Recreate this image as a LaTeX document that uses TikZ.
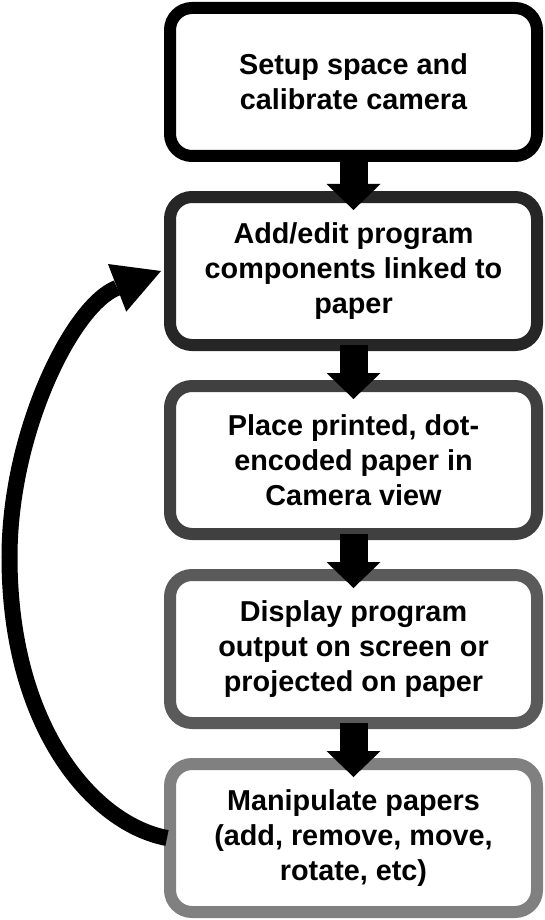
\documentclass[tikz,border=0pt]{standalone}
\usepackage{fontspec}
\setmainfont{Liberation Sans}
\usetikzlibrary{arrows.meta}
\definecolor{boxA}{HTML}{000000}
\definecolor{boxB}{HTML}{262626}
\definecolor{boxC}{HTML}{404040}
\definecolor{boxD}{HTML}{5A5A5A}
\definecolor{boxE}{HTML}{808080}
\begin{document}
\begin{tikzpicture}[x=1pt,y=-1pt,
  stepbox/.style={draw=#1, line width=12pt, rounded corners=22pt,
    minimum width=367pt, minimum height=148pt, align=center, inner sep=0pt,
    fill=white, font=\bfseries\fontsize{28.8}{35}\selectfont},
  blockarrow/.style={line width=28pt, -{Triangle[length=26pt,width=54pt,line width=0pt]}},
  looparrow/.style={line width=16pt, -{Triangle[length=47pt,width=51pt,line width=0pt]}}]
\useasboundingbox (0,0) rectangle (544,920);
\node[stepbox=boxA] (a) at (353.5,82) {Setup space and\\calibrate camera};
\node[stepbox=boxB] (b) at (353.5,271) {Add/edit program\\components linked to\\paper};
\node[stepbox=boxC] (c) at (353.5,460) {Place printed, dot-\\encoded paper in\\Camera view};
\node[stepbox=boxD] (d) at (353.5,649) {Display program\\output on screen or\\projected on paper};
\node[stepbox=boxE] (e) at (353.5,838) {Manipulate papers\\(add, remove, move,\\rotate, etc)};
\draw[blockarrow] ([yshift=6pt]a.south) -- ([yshift=-19pt]b.north);
\draw[blockarrow] ([yshift=6pt]b.south) -- ([yshift=-19pt]c.north);
\draw[blockarrow] ([yshift=6pt]c.south) -- ([yshift=-19pt]d.north);
\draw[blockarrow] ([yshift=6pt]d.south) -- ([yshift=-19pt]e.north);
\coordinate (lm) at (9.5,557);
\draw[looparrow] ([xshift=3pt]e.west) .. controls (93,824) and (9.5,727) .. (lm)
  .. controls (9.5,432) and (72.6,304.9) .. ([xshift=-3pt]b.west);
\end{tikzpicture}
\end{document}
